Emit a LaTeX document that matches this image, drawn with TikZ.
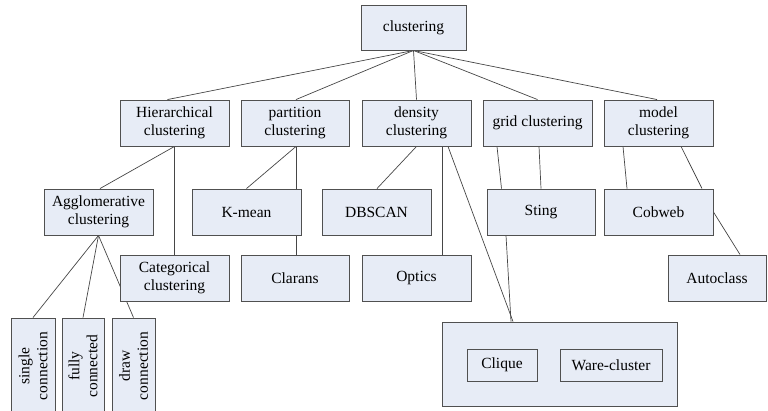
\documentclass[tikz,border=0pt]{standalone}
\usepackage{fontspec}
\setmainfont{LiberationSerif}[Extension=.ttf, UprightFont=*-Regular, BoldFont=*-Bold, ItalicFont=*-Italic, BoldItalicFont=*-BoldItalic]
\usetikzlibrary{backgrounds}
\definecolor{boxfill}{RGB}{231,236,246}
\definecolor{boxline}{RGB}{80,80,80}
\definecolor{conn}{RGB}{70,70,70}
\begin{document}
\begin{tikzpicture}[x=1pt,y=-1pt,
  box/.style={draw=boxline, fill=boxfill, line width=0.9pt, align=center, inner sep=0pt,
    font=\rmfamily\fontsize{15.5}{18}\selectfont},
  std/.style={box, minimum width=109pt, minimum height=46pt},
  vbox/.style={box, rotate=90, minimum width=96pt},
  link/.style={draw=conn, line width=0.7pt}]
\useasboundingbox (0,0) rectangle (768,410);
\clip (0,0) rectangle (768,410);
% top
\node[box, minimum width=105pt, minimum height=45pt] (root) at (413.5,27.5) {clustering};
% level 1
\node[std] (hier) at (174.5,123) {Hierarchical\\clustering};
\node[std, minimum width=108pt] (part) at (295,123) {partition\\clustering};
\node[std] (dens) at (416.5,123) {density\\clustering};
\node[std] (grid) at (537.5,123) {grid clustering};
\node[std] (model) at (658.5,123) {model\\clustering};
% level 2
\node[std] (aggl) at (98.5,212) {Agglomerative\\clustering};
\node[std] (kmean) at (246.5,212) {K-mean};
\node[std] (dbscan) at (376.5,212) {DBSCAN};
\node[std, minimum width=108pt] (sting) at (541,212) {Sting};
\node[std] (cobweb) at (658.5,212) {Cobweb};
% level 3
\node[std] (cat) at (174.5,278) {Categorical\\clustering};
\node[std, minimum width=108pt] (clarans) at (295,278) {Clarans};
\node[std] (optics) at (416.5,278) {Optics};
\node[std, minimum width=98pt] (auto) at (717,278) {Autoclass};
% bottom group
\node[box, minimum width=235pt, minimum height=84pt] (group) at (559.5,364) {};
\node[box, minimum width=70pt, minimum height=32pt] (clique) at (502,365) {Clique};
\node[box, minimum width=102pt, minimum height=32pt] (ware) at (611,365) {Ware-cluster};
% vertical boxes
\node[vbox, minimum height=44pt] (single) at (33,366) {single\\connection};
\node[vbox, minimum height=42pt] (fully) at (83,366) {fully\\connected};
\node[vbox, minimum height=43pt] (drawc) at (133.5,366) {draw\\connection};
% connectors
\begin{scope}[on background layer]
\path[link] (root.south) -- ([xshift=-7pt]hier.north);
\path[link] (root.south) -- ([xshift=1pt]part.north);
\path[link] (root.south) -- (dens.north);
\path[link] (root.south) -- (grid.north);
\path[link] (root.south) -- ([xshift=-1.5pt]model.north);
\path[link] (hier.south) -- ([xshift=1.5pt]aggl.north);
\path[link] (hier.south) -- (cat.north);
\path[link] ([xshift=1pt]part.south) -- (kmean.north);
\path[link] ([xshift=1pt]part.south) -- ([xshift=1pt]clarans.north);
\path[link] (dens.south) -- ([xshift=0.5pt]dbscan.north);
\path[link] ([xshift=25.5pt]dens.south) -- ([xshift=25.5pt]optics.north);
\path[link] ([xshift=31.5pt]dens.south) -- ([xshift=-46.5pt]group.north);
\path[link] ([xshift=-40.5pt]grid.south) -- ([xshift=-39.5pt]sting.north);
\path[link] ([xshift=1.5pt]grid.south) -- (sting.north);
\path[link] ([xshift=-35pt]sting.south) -- ([xshift=-48.5pt]group.north);
\path[link] ([xshift=-35.5pt]model.south) -- ([xshift=-31.5pt]cobweb.north);
\path[link] ([xshift=22.5pt]model.south) -- ([xshift=43.5pt]cobweb.north);
\path[link] (cobweb.east) -- ([xshift=23pt]auto.north);
\path[link] (aggl.south) -- (single.east);
\path[link] (aggl.south) -- (fully.east);
\path[link] (aggl.south) -- (drawc.east);
\end{scope}
\end{tikzpicture}
\end{document}
